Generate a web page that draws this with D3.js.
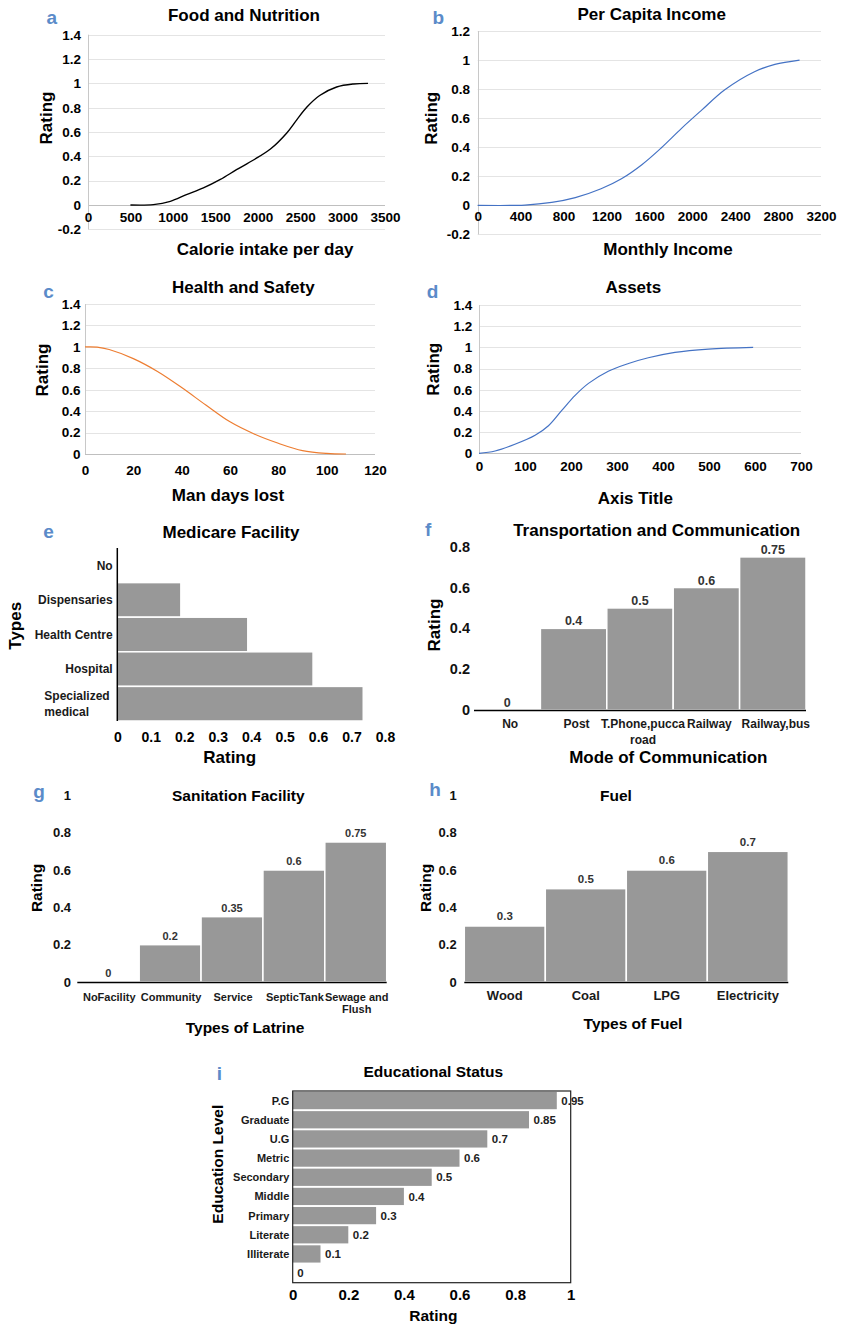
<!DOCTYPE html>
<html><head><meta charset="utf-8">
<script src="https://cdn.jsdelivr.net/npm/d3@7"></script>
<style>
body{margin:0;background:#fff}
svg{display:block}
text{font-family:"Liberation Sans",Arial,Helvetica,sans-serif;font-weight:bold}
</style>
</head><body>
<svg id="chart" width="846" height="1326"></svg>
<script>
// ---------------- DATA ----------------
// a: Food and Nutrition
const foodCalories = [500, 770, 970, 1160, 1360, 1560, 1750, 1950, 2150, 2340, 2460, 2580, 2730, 2930, 3130, 3300];
const foodRating   = [0, 0.003, 0.03, 0.085, 0.14, 0.21, 0.29, 0.37, 0.46, 0.59, 0.70, 0.805, 0.90, 0.97, 0.995, 1.0];
const foodXTicks = [0, 500, 1000, 1500, 2000, 2500, 3000, 3500];
const foodYTicks = [-0.2, 0, 0.2, 0.4, 0.6, 0.8, 1, 1.2, 1.4];
// b: Per Capita Income
const incomeMonthly = [0, 440, 690, 910, 1150, 1340, 1530, 1710, 1900, 2090, 2300, 2580, 2770, 3000];
const incomeRating  = [0, 0.002, 0.02, 0.053, 0.114, 0.183, 0.28, 0.395, 0.53, 0.657, 0.794, 0.92, 0.97, 1.0];
const incomeXTicks = [0, 400, 800, 1200, 1600, 2000, 2400, 2800, 3200];
const incomeYTicks = [-0.2, 0, 0.2, 0.4, 0.6, 0.8, 1, 1.2];
// c: Health and Safety
const daysLost     = [0, 5, 10, 20, 30, 40, 50, 60, 70, 80, 90, 100, 108];
const healthRating = [1, 0.998, 0.975, 0.89, 0.77, 0.62, 0.457, 0.30, 0.187, 0.10, 0.031, 0.005, 0];
const healthXTicks = [0, 20, 40, 60, 80, 100, 120];
const healthYTicks = [0, 0.2, 0.4, 0.6, 0.8, 1, 1.2, 1.4];
// d: Assets
const assetValue  = [0, 35, 78, 122, 151, 180, 209, 238, 281, 325, 368, 426, 499, 596];
const assetRating = [0, 0.022, 0.085, 0.17, 0.26, 0.405, 0.547, 0.66, 0.775, 0.848, 0.902, 0.953, 0.984, 1.0];
const assetXTicks = [0, 100, 200, 300, 400, 500, 600, 700];
const assetYTicks = [0, 0.2, 0.4, 0.6, 0.8, 1, 1.2, 1.4];
// e: Medicare Facility
const medicareTypes  = ["No", "Dispensaries", "Health Centre", "Hospital", "Specialized medical"];
const medicareRating = [0, 0.19, 0.39, 0.585, 0.735];
const medicareXTicks = [0, 0.1, 0.2, 0.3, 0.4, 0.5, 0.6, 0.7, 0.8];
// f: Transportation and Communication
const transportModes  = ["No", "Post", "T.Phone,pucca road", "Railway", "Railway,bus"];
const transportRating = [0, 0.4, 0.5, 0.6, 0.75];
const transportYTicks = [0, 0.2, 0.4, 0.6, 0.8];
// g: Sanitation Facility
const latrineTypes  = ["NoFacility", "Community", "Service", "SepticTank", "Sewage and Flush"];
const latrineRating = [0, 0.2, 0.35, 0.6, 0.75];
const latrineYTicks = [0, 0.2, 0.4, 0.6, 0.8, 1];
// h: Fuel
const fuelTypes  = ["Wood", "Coal", "LPG", "Electricity"];
const fuelRating = [0.3, 0.5, 0.6, 0.7];
const fuelYTicks = [0, 0.2, 0.4, 0.6, 0.8, 1];
// i: Educational Status
const eduLevels = ["P.G", "Graduate", "U.G", "Metric", "Secondary", "Middle", "Primary", "Literate", "Illiterate", ""];
const eduRating = [0.95, 0.85, 0.7, 0.6, 0.5, 0.4, 0.3, 0.2, 0.1, 0];
const eduXTicks = [0, 0.2, 0.4, 0.6, 0.8, 1];

// ---------------- HELPERS ----------------
const svg = d3.select("#chart");
const LETTER_COLOR = "#5b8bc9";
const BAR_COLOR = "#989898";
const fmt = d => String(+d.toFixed(2));

const measurer = svg.append("text").attr("visibility", "hidden");
function textWidth(s, size) { measurer.attr("font-size", size).text(s); return measurer.node().getComputedTextLength(); }
function wrap(label, size, maxW) {
  const words = label.split(" "); const lines = []; let cur = "";
  words.forEach(w => {
    const t = cur ? cur + " " + w : w;
    if (cur && textWidth(t, size) > maxW) { lines.push(cur); cur = w; } else cur = t;
  });
  if (cur) lines.push(cur);
  return lines;
}
function txt(x, y, s, size, anchor = "middle", fill = "#000") {
  return svg.append("text").attr("x", x).attr("y", y).attr("font-size", size)
    .attr("text-anchor", anchor).attr("fill", fill).text(s);
}
function rtxt(x, y, s, size) {
  return svg.append("text").attr("transform", `translate(${x},${y}) rotate(-90)`)
    .attr("text-anchor", "middle").attr("font-size", size).attr("fill", "#000").text(s);
}
function letter(x, y, s) { txt(x, y, s, 19, "start", LETTER_COLOR); }
function styleAxis(sel, size, fill) {
  sel.select(".domain").remove();
  sel.attr("font-family", null).attr("font-size", size);
  sel.selectAll("text").attr("fill", fill).attr("font-weight", "bold");
}

function lineChart(c) {
  const g = svg.append("g");
  const x = d3.scaleLinear().domain(c.xDomain).range(c.xRange);
  const y = d3.scaleLinear().domain(c.yDomain).range(c.yRange);
  g.append("g").selectAll("line").data(c.yTicks).join("line")
    .attr("x1", c.xRange[0]).attr("x2", c.xRange[1])
    .attr("y1", d => Math.round(y(d)) + 0.5).attr("y2", d => Math.round(y(d)) + 0.5)
    .attr("stroke", d => d === 0 ? "#bfbfbf" : "#e4e4e4").attr("stroke-width", 1);
  g.append("line").attr("x1", Math.round(x(0)) + 0.5).attr("x2", Math.round(x(0)) + 0.5)
    .attr("y1", y(c.yDomain[0])).attr("y2", y(c.yDomain[1])).attr("stroke", "#c8c8c8");
  const ya = g.append("g").attr("transform", `translate(${x(0)},0)`)
    .call(d3.axisLeft(y).tickValues(c.yTicks).tickSize(0).tickPadding(c.yPad).tickFormat(fmt));
  styleAxis(ya, c.tickSize, "#000");
  const xa = g.append("g").attr("transform", `translate(0,${y(0)})`)
    .call(d3.axisBottom(x).tickValues(c.xTicks).tickSize(0).tickPadding(c.xPad).tickFormat(fmt));
  styleAxis(xa, c.tickSize, "#000");
  const pts = c.xs.map((v, i) => [v, c.ys[i]]);
  g.append("path").datum(pts).attr("fill", "none").attr("stroke", c.color).attr("stroke-width", c.lw)
    .attr("d", d3.line().x(d => x(d[0])).y(d => y(d[1])).curve(d3.curveCatmullRom.alpha(0.5)));
}

function vBarChart(c) {
  const g = svg.append("g");
  const x = d3.scaleBand().domain(c.cats).range(c.xRange).padding(0);
  const y = d3.scaleLinear().domain(c.yDomain).range(c.yRange);
  const data = c.cats.map((k, i) => ({ k, v: c.vals[i] }));
  g.selectAll("rect").data(data).join("rect")
    .attr("x", d => x(d.k)).attr("width", x.bandwidth())
    .attr("y", d => y(d.v)).attr("height", d => y(0) - y(d.v))
    .attr("fill", BAR_COLOR).attr("stroke", "#fff").attr("stroke-width", 1.5);
  g.append("line").attr("x1", c.xRange[0]).attr("x2", c.xRange[1])
    .attr("y1", y(0) + 0.5).attr("y2", y(0) + 0.5).attr("stroke", "#000").attr("stroke-width", 1.5);
  const ya = g.append("g").attr("transform", `translate(${c.yLabelRight},0)`)
    .call(d3.axisLeft(y).tickValues(c.yTicks).tickSize(0).tickPadding(0).tickFormat(fmt));
  styleAxis(ya, c.tickSize, "#111");
  data.forEach(d => {
    const lines = wrap(d.k, c.catSize, x.bandwidth() + c.wrapExtra);
    lines.forEach((ln, j) => txt(x(d.k) + x.bandwidth() / 2 + c.catShift, y(0) + c.catOffset + j * c.lineH, ln, c.catSize, "middle", "#1a1a1a"));
  });
  g.selectAll("text.val").data(data).join("text").attr("class", "val")
    .attr("x", d => x(d.k) + x.bandwidth() / 2).attr("y", d => y(d.v) - c.valGap)
    .attr("text-anchor", "middle").attr("font-size", c.valSize).attr("fill", "#333").text(d => fmt(d.v));
}

// ---------------- a ----------------
lineChart({ xs: foodCalories, ys: foodRating, xDomain: [0, 3500], xRange: [88, 385],
  yDomain: [-0.2, 1.4], yRange: [229.3, 34.7], yTicks: foodYTicks, xTicks: foodXTicks,
  yPad: 7, xPad: 7.5, tickSize: 13.5, color: "#000", lw: 1.4 });
txt(244, 21, "Food and Nutrition", 17);
txt(265, 255, "Calorie intake per day", 17);
rtxt(51.5, 118, "Rating", 17);
letter(46.5, 23.5, "a");

// ---------------- b ----------------
lineChart({ xs: incomeMonthly, ys: incomeRating, xDomain: [0, 3200], xRange: [477.7, 821],
  yDomain: [-0.2, 1.2], yRange: [234.4, 31], yTicks: incomeYTicks, xTicks: incomeXTicks,
  yPad: 7.7, xPad: 6.5, tickSize: 13.5, color: "#4472c4", lw: 1.2 });
txt(651.7, 19.5, "Per Capita Income", 17);
txt(668, 255, "Monthly Income", 17);
rtxt(437.2, 118.3, "Rating", 17);
letter(432.5, 23.5, "b");

// ---------------- c ----------------
lineChart({ xs: daysLost, ys: healthRating, xDomain: [0, 120], xRange: [85, 375],
  yDomain: [0, 1.4], yRange: [454, 304], yTicks: healthYTicks, xTicks: healthXTicks,
  yPad: 4.5, xPad: 11, tickSize: 13.5, color: "#ed7d31", lw: 1.2 });
txt(243.3, 292.8, "Health and Safety", 17);
txt(228, 501, "Man days lost", 17);
rtxt(48.2, 370, "Rating", 17);
letter(43.3, 298.3, "c");

// ---------------- d ----------------
lineChart({ xs: assetValue, ys: assetRating, xDomain: [0, 700], xRange: [479, 801],
  yDomain: [0, 1.4], yRange: [453.3, 305], yTicks: assetYTicks, xTicks: assetXTicks,
  yPad: 6.7, xPad: 8.5, tickSize: 13.5, color: "#4472c4", lw: 1.2 });
txt(633.3, 292.8, "Assets", 17);
txt(635.3, 504.4, "Axis Title", 17);
rtxt(438.9, 369.2, "Rating", 17);
letter(426.7, 298.3, "d");

// ---------------- e ----------------
(function () {
  const g = svg.append("g");
  const y = d3.scaleBand().domain(medicareTypes).range([548, 721]).padding(0);
  const x = d3.scaleLinear().domain([0, 0.8]).range([117.3, 385]);
  const data = medicareTypes.map((k, i) => ({ k, v: medicareRating[i] }));
  g.selectAll("rect").data(data).join("rect")
    .attr("x", x(0)).attr("y", d => y(d.k)).attr("height", y.bandwidth())
    .attr("width", d => x(d.v) - x(0)).attr("fill", BAR_COLOR).attr("stroke", "#fff").attr("stroke-width", 1.5);
  g.append("line").attr("x1", x(0)).attr("x2", x(0)).attr("y1", 548).attr("y2", 721)
    .attr("stroke", "#000").attr("stroke-width", 1.5);
  const xa = g.append("g").attr("transform", `translate(0,721)`)
    .call(d3.axisBottom(x).tickValues(medicareXTicks).tickSize(0).tickPadding(11).tickFormat(fmt));
  styleAxis(xa, 14, "#000");
  data.forEach(d => {
    const lines = wrap(d.k, 12, 90);
    const cy = y(d.k) + y.bandwidth() / 2;
    if (lines.length === 1) {
      txt(112.7, cy + 4.3, lines[0], 12, "end", "#1a1a1a");
    } else {
      const maxW = d3.max(lines, l => textWidth(l, 12));
      const lh = 15.6;
      lines.forEach((ln, j) => txt(112.7 - maxW - 3, cy + 4.3 + (j - (lines.length - 1) / 2) * lh, ln, 12, "start", "#1a1a1a"));
    }
  });
})();
txt(231, 537.8, "Medicare Facility", 17);
txt(229.7, 763, "Rating", 17);
rtxt(20.5, 625.8, "Types", 17);
letter(43.3, 538, "e");

// ---------------- f ----------------
vBarChart({ cats: transportModes, vals: transportRating, xRange: [474, 806], yDomain: [0, 0.8], yRange: [710, 546.7],
  yTicks: transportYTicks, yLabelRight: 470, tickSize: 14.5, catSize: 12, catOffset: 17.6, lineH: 16, wrapExtra: 0,
  catShift: 3, valSize: 12.5, valGap: 3 });
txt(656.7, 536, "Transportation and Communication", 17);
txt(668.3, 763, "Mode of Communication", 17);
rtxt(439.5, 625, "Rating", 17);
letter(425, 536, "f");

// ---------------- g ----------------
vBarChart({ cats: latrineTypes, vals: latrineRating, xRange: [77.3, 386.7], yDomain: [0, 1], yRange: [982, 795.3],
  yTicks: latrineYTicks, yLabelRight: 71, tickSize: 13, catSize: 11, catOffset: 18.7, lineH: 12.5, wrapExtra: 8,
  catShift: 1, valSize: 11, valGap: 4.7 });
txt(238.3, 801.3, "Sanitation Facility", 15.5);
txt(245, 1032.8, "Types of Latrine", 15.5);
rtxt(41.8, 888, "Rating", 15.5);
letter(33.3, 798.3, "g");

// ---------------- h ----------------
vBarChart({ cats: fuelTypes, vals: fuelRating, xRange: [464.3, 788.3], yDomain: [0, 1], yRange: [982, 795.3],
  yTicks: fuelYTicks, yLabelRight: 456.7, tickSize: 13, catSize: 13, catOffset: 17.7, lineH: 14, wrapExtra: 0,
  catShift: 0, valSize: 11.5, valGap: 5.6 });
txt(616, 801.3, "Fuel", 15.5);
txt(633, 1029.4, "Types of Fuel", 15.5);
rtxt(431, 888, "Rating", 15.5);
letter(429.3, 795.7, "h");

// ---------------- i ----------------
(function () {
  const g = svg.append("g");
  const y = d3.scaleBand().domain(eduLevels.map((d, i) => i)).range([1091, 1282.7]).paddingInner(0.1).paddingOuter(0.05);
  const x = d3.scaleLinear().domain([0, 1]).range([292.7, 570.7]);
  const data = eduLevels.map((k, i) => ({ i, k, v: eduRating[i] }));
  g.selectAll("rect").data(data).join("rect")
    .attr("x", x(0)).attr("y", d => y(d.i)).attr("height", y.bandwidth())
    .attr("width", d => x(d.v) - x(0)).attr("fill", BAR_COLOR);
  data.forEach(d => {
    const cy = y(d.i) + y.bandwidth() / 2;
    if (d.k) txt(289.3, cy + 4, d.k, 11, "end", "#1a1a1a");
    txt(x(d.v) + 4.5, cy + 4.1, fmt(d.v), 11.5, "start", "#222");
  });
  g.append("rect").attr("x", 292.7).attr("y", 1091).attr("width", 278).attr("height", 191.7)
    .attr("fill", "none").attr("stroke", "#222").attr("stroke-width", 1.2);
  const xa = g.append("g").attr("transform", `translate(0,1282.7)`)
    .call(d3.axisBottom(x).tickValues(eduXTicks).tickSize(0).tickPadding(7).tickFormat(fmt));
  styleAxis(xa, 15, "#000");
})();
txt(433.3, 1077.3, "Educational Status", 15.5);
txt(433.3, 1320.9, "Rating", 15.5);
rtxt(222.7, 1164.2, "Education Level", 15.5);
letter(216.7, 1080, "i");
</script>
</body></html>
